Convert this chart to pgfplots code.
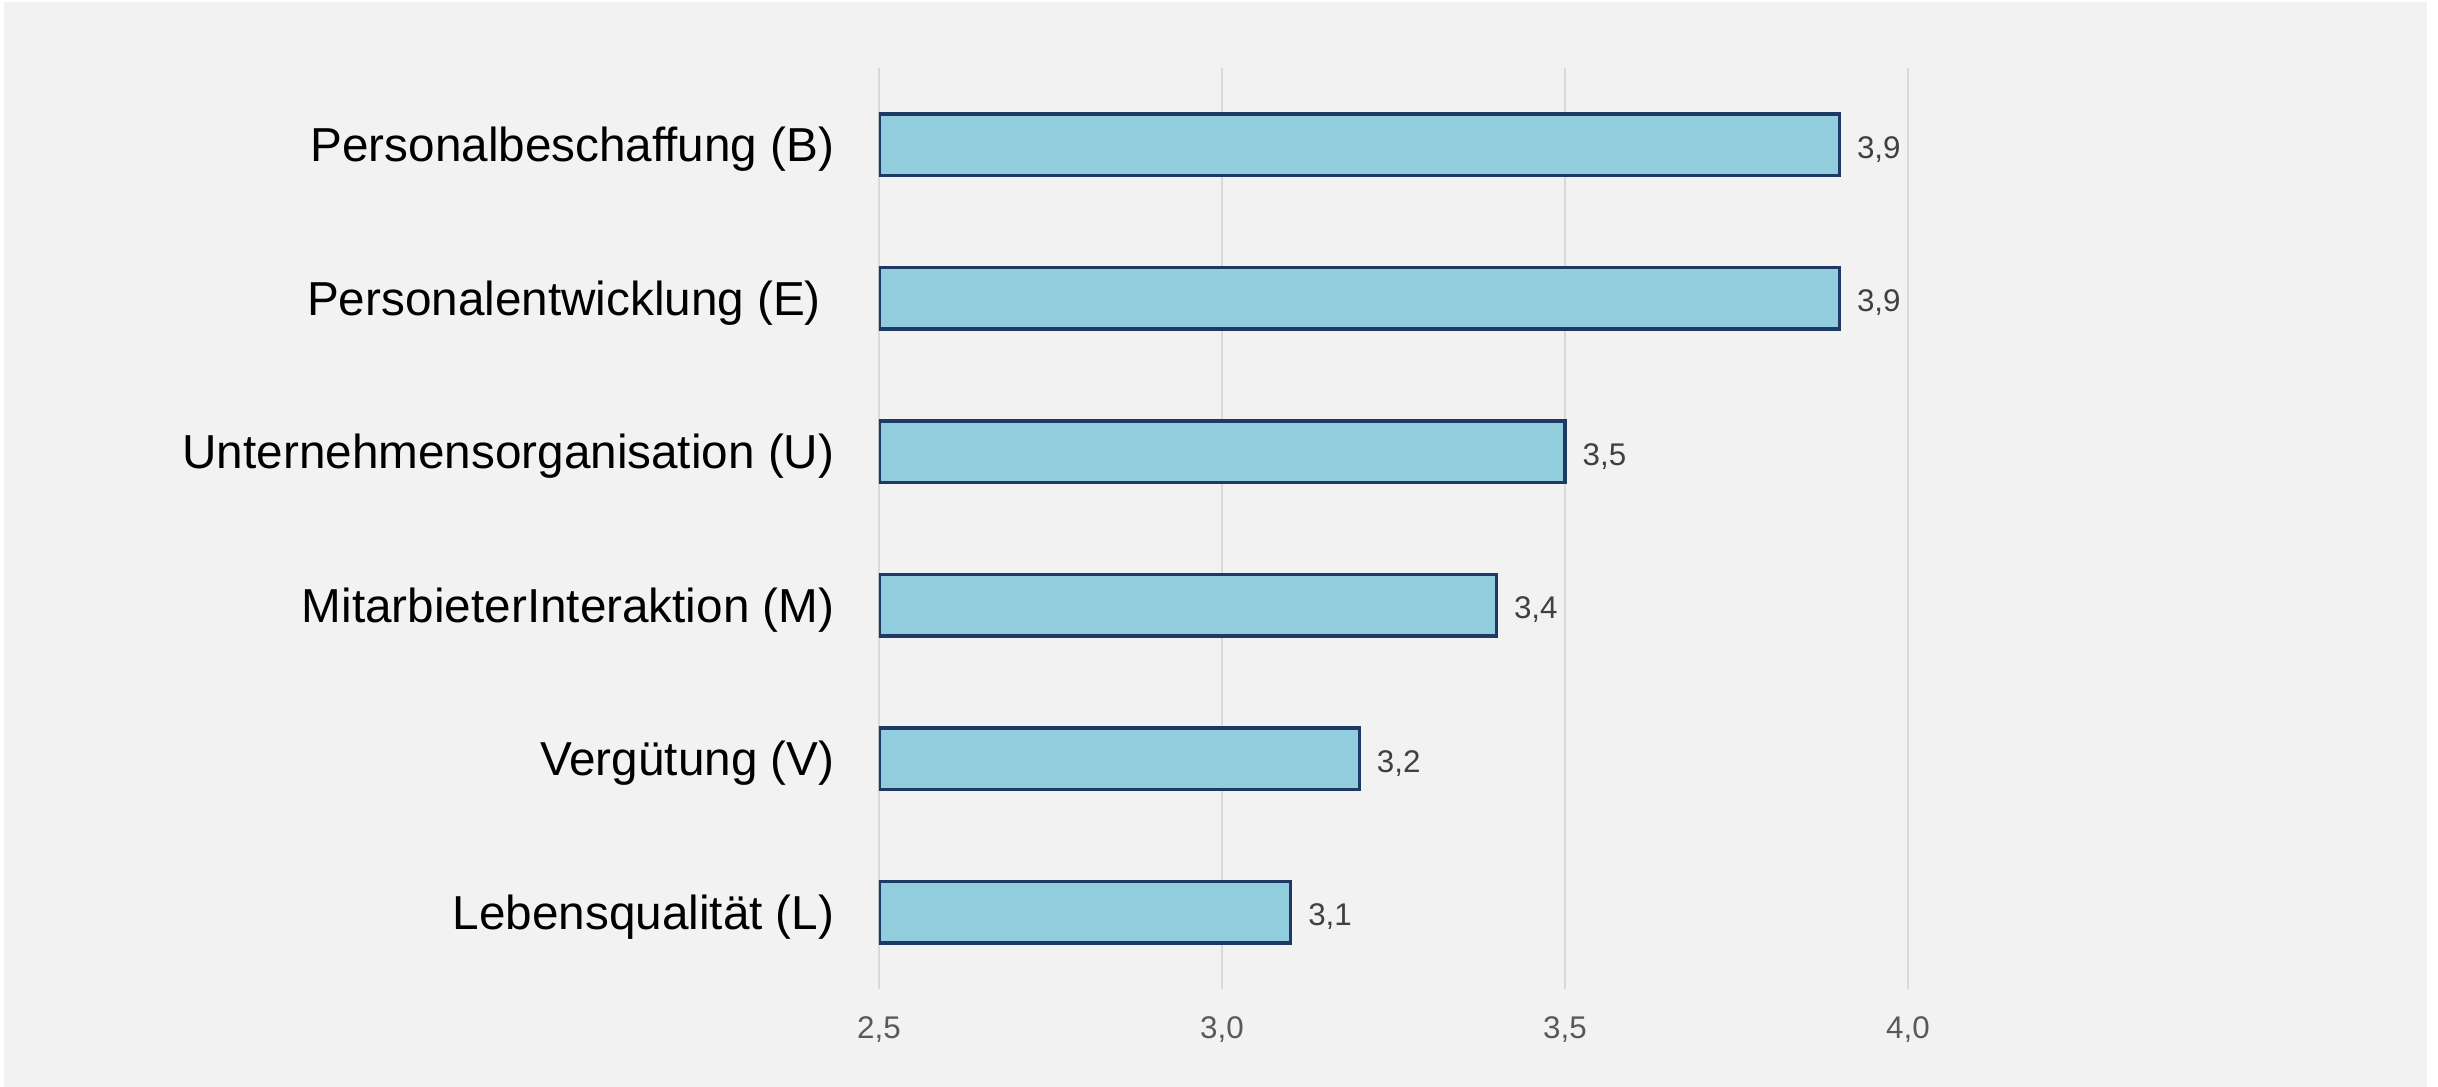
\documentclass[border=0pt]{standalone}
\usepackage{pgfplots}
\pgfplotsset{compat=1.18}
\usepackage{fontspec}
\setmainfont{Liberation Sans}

\definecolor{bg}{HTML}{F2F2F2}
\definecolor{barfill}{HTML}{92CDDD}
\definecolor{barline}{HTML}{1F3864}
\definecolor{gridgray}{HTML}{D9D9D9}
\definecolor{ticktext}{HTML}{595959}
\definecolor{valtext}{HTML}{404040}

\begin{document}
\begin{tikzpicture}
% background: thin white margin, grey panel
\fill[white] (0,0) rectangle (731.4pt,326.1pt);
\fill[bg] (1.2pt,0pt) rectangle (728.1pt,325.5pt);
\begin{axis}[
    at={(263.7pt,29.4pt)}, anchor=south west,
    scale only axis,
    width=308.7pt, height=276.3pt,
    xbar,
    bar width=0.4,
    xmin=2.5, xmax=4.0,
    ymin=-0.5, ymax=5.5,
    xtick={2.5,3,3.5,4},
    ytick={0,1,2,3,4,5},
    yticklabels={Lebensqualität (L), Vergütung (V), MitarbieterInteraktion (M),
        Unternehmensorganisation (U), Personalentwicklung (E)\kern0.28em, Personalbeschaffung (B)},
    axis line style={draw=none},
    major tick length=0pt,
    xmajorgrids,
    major grid style={color=gridgray, line width=0.6pt},
    /pgf/number format/.cd, use comma, fixed, fixed zerofill, precision=1,
        assume math mode=true,
    /pgfplots/.cd,
    xticklabel style={font=\fontsize{9.4}{11}\selectfont, text=ticktext,
        anchor=north, inner sep=0pt, yshift=-8.1pt},
    yticklabel style={font=\fontsize{14.3}{17}\selectfont, text=black,
        anchor=east, inner sep=0pt, xshift=-13.2pt, yshift=-1.4pt},
    point meta=x,
    nodes near coords,
    nodes near coords style={font=\fontsize{9.4}{11}\selectfont, text=valtext,
        anchor=west, inner sep=0pt, xshift=4.8pt, yshift=-1.3pt},
    ]
\addplot[fill=barfill, draw=barline, line width=1pt] coordinates {
    (3.1,0) (3.2,1) (3.4,2) (3.5,3) (3.9,4) (3.9,5)};
\end{axis}
\end{tikzpicture}
\end{document}
